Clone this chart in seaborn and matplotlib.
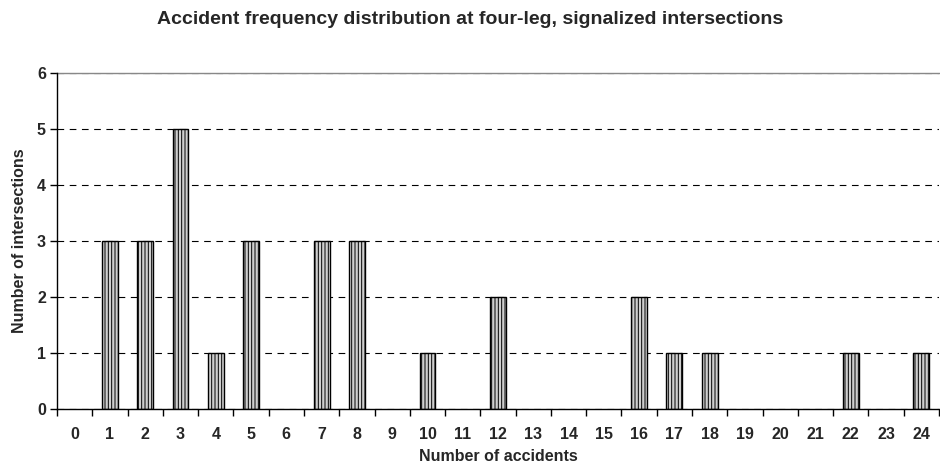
import matplotlib
matplotlib.use("Agg")
import matplotlib.pyplot as plt
import seaborn as sns
import numpy as np
import pandas as pd
from matplotlib.ticker import FixedLocator

accidents = list(range(25))
intersections = [0, 3, 3, 5, 1, 3, 0, 3, 3, 0, 1, 0, 2, 0, 0, 0, 2, 1, 1, 0, 0, 0, 1, 0, 1]
yticks = [0, 1, 2, 3, 4, 5, 6]

sns.set_theme(style="white")
plt.rcParams['font.family'] = ['Liberation Sans', 'DejaVu Sans']
plt.rcParams['hatch.color'] = '#9a9a9a'
plt.rcParams['hatch.linewidth'] = 0.7

df = pd.DataFrame({"acc": [str(a) for a in accidents], "n": intersections})

fig = plt.figure(figsize=(9.4, 4.67), dpi=100)
ax = fig.add_axes([57/940, 1-409/467, (939-57)/940, (409-73)/467])

sns.barplot(data=df, x="acc", y="n", order=[str(a) for a in accidents],
            color="#cfcfcf", edgecolor="black", linewidth=1.0, width=0.45,
            hatch="|||||", ax=ax, saturation=1)
for p in ax.patches:
    p.set_hatch("|||||")
    p.set_zorder(3)
    if p.get_height() == 0:
        p.set_visible(False)

ax.set_xlim(-0.5, 24.5)
ax.set_ylim(0, 6)
ax.set_yticks(yticks)
ax.yaxis.grid(True, linestyle=(0, (6, 5)), color='black', linewidth=0.8)
ax.set_axisbelow(True)

ax.spines['right'].set_visible(False)
ax.spines['top'].set_color('#888888')
ax.spines['top'].set_linewidth(1.0)
for s in ['left', 'bottom']:
    ax.spines[s].set_color('black')
    ax.spines[s].set_linewidth(1.0)
    ax.spines[s].set_zorder(4)

ax.xaxis.set_minor_locator(FixedLocator(np.arange(-0.5, 25, 1.0)))
ax.tick_params(axis='x', which='major', length=0, pad=13, labelsize=11.5)
ax.tick_params(axis='x', which='minor', length=5, width=1, color='black', direction='out', bottom=True)
ax.tick_params(axis='y', which='major', length=5, width=1, color='black', direction='out', left=True, labelsize=11.5, pad=3)
for lab in ax.get_xticklabels() + ax.get_yticklabels():
    lab.set_fontweight('bold')

ax.set_xlabel("Number of accidents", fontsize=11.5, fontweight='bold', labelpad=5)
ax.set_ylabel("Number of intersections", fontsize=11.5, fontweight='bold', labelpad=7)
fig.suptitle("Accident frequency distribution at four-leg, signalized intersections",
             fontsize=14, fontweight='bold', y=1-19/467, va='center')

fig.savefig("out.png", dpi=100)
